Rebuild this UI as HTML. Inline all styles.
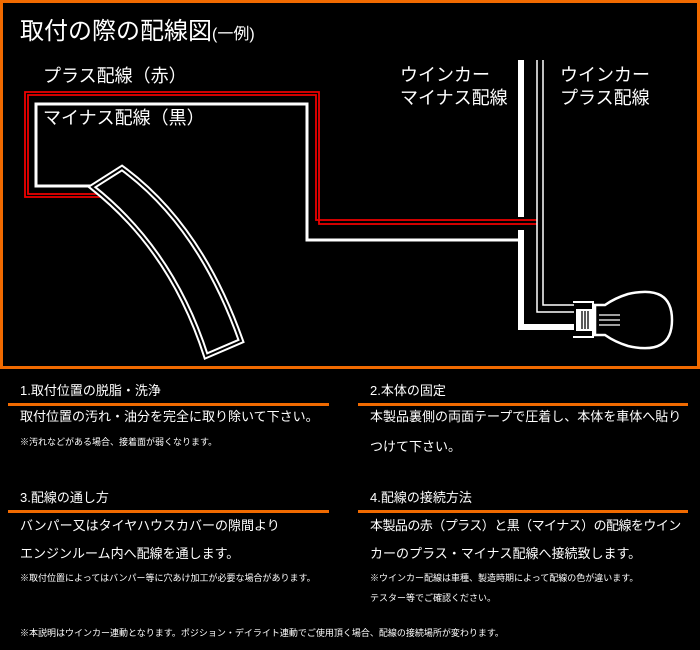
<!DOCTYPE html>
<html><head><meta charset="utf-8"><style>
body{margin:0;background:#000;width:700px;height:650px;overflow:hidden;font-family:"Liberation Sans","Noto Sans CJK JP",sans-serif;color:#fff;position:relative}
.t{position:absolute;white-space:nowrap;line-height:1}
.h{font-size:13px}
.b{font-size:13px}
.n{font-size:9px}
.ln{position:absolute;height:3px;background:#f06a00}
</style></head><body>
<svg width="700" height="370" style="position:absolute;left:0;top:0">
<rect x="1.5" y="1.5" width="697" height="366" fill="#000" stroke="#f06a00" stroke-width="3"/>
<g fill="none" stroke="#e00" stroke-width="1.8">
<polyline points="101,197 25,197 25,92 319,92 319,224 537,224"/>
<polyline points="101,194 28,194 28,95 316,95 316,220 537,220"/>
</g>
<polyline points="95,186 36,186 36,104 307,104 307,240 520,240" fill="none" stroke="#fff" stroke-width="3"/>
<path d="M92,187 L122,168 Q200,225 241,341 L206,356 Q172,250 92,187 Z" stroke="#fff" stroke-width="6" fill="#000"/>
<path d="M92,187 L122,168 Q200,225 241,341 L206,356 Q172,250 92,187 Z" stroke="#000" stroke-width="2" fill="none"/>
<rect x="518" y="60" width="6" height="157" fill="#fff"/>
<polyline points="521,230 521,327 574,327" fill="none" stroke="#fff" stroke-width="6"/>
<polyline points="537,60 537,312 574,312" fill="none" stroke="#fff" stroke-width="1.5"/>
<polyline points="543,60 543,305 574,305" fill="none" stroke="#fff" stroke-width="1.5"/>
<path d="M573,302 L593,302 L593,337 L573,337" fill="none" stroke="#fff" stroke-width="2"/>
<rect x="576" y="309" width="16" height="22" fill="#fff"/>
<g stroke="#000" stroke-width="1.3"><line x1="582" y1="311" x2="582" y2="329"/><line x1="585" y1="311" x2="585" y2="329"/><line x1="588" y1="311" x2="588" y2="329"/></g>
<path d="M595,305 L605,305 Q615,298 628,294 Q672,284 672,320 Q672,356 628,346 Q615,342 605,335 L595,335 Z" fill="#000" stroke="#fff" stroke-width="2.5"/>
<g stroke="#fff" stroke-width="1.3"><line x1="599" y1="315" x2="620" y2="315"/><line x1="599" y1="320" x2="620" y2="320"/><line x1="599" y1="325" x2="620" y2="325"/></g>
</svg>
<div class="t" style="left:20px;top:20px;font-size:24px">取付の際の配線図<span style="font-size:16px">(一例)</span></div>
<div class="t" style="left:43px;top:67px;font-size:18px">プラス配線（赤）</div>
<div class="t" style="left:43px;top:109px;font-size:18px">マイナス配線（黒）</div>
<div class="t" style="left:400px;top:64px;font-size:18px;line-height:23px">ウインカー<br>マイナス配線</div>
<div class="t" style="left:560px;top:64px;font-size:18px;line-height:23px">ウインカー<br>プラス配線</div>

<div class="t h" style="left:20px;top:384px">1.取付位置の脱脂・洗浄</div>
<div class="ln" style="left:8px;top:403px;width:321px"></div>
<div class="t b" style="left:20px;top:410px">取付位置の汚れ・油分を完全に取り除いて下さい。</div>
<div class="t n" style="left:20px;top:438px">※汚れなどがある場合、接着面が弱くなります。</div>

<div class="t h" style="left:370px;top:384px">2.本体の固定</div>
<div class="ln" style="left:358px;top:403px;width:330px"></div>
<div class="t b" style="left:370px;top:410px">本製品裏側の両面テープで圧着し、本体を車体へ貼り</div>
<div class="t b" style="left:370px;top:440px">つけて下さい。</div>

<div class="t h" style="left:20px;top:491px">3.配線の通し方</div>
<div class="ln" style="left:8px;top:510px;width:321px"></div>
<div class="t b" style="left:20px;top:519px">バンパー又はタイヤハウスカバーの隙間より</div>
<div class="t b" style="left:20px;top:547px">エンジンルーム内へ配線を通します。</div>
<div class="t n" style="left:20px;top:574px">※取付位置によってはバンパー等に穴あけ加工が必要な場合があります。</div>

<div class="t h" style="left:370px;top:491px">4.配線の接続方法</div>
<div class="ln" style="left:358px;top:510px;width:330px"></div>
<div class="t b" style="left:370px;top:519px;letter-spacing:-0.55px">本製品の赤（プラス）と黒（マイナス）の配線をウイン</div>
<div class="t b" style="left:370px;top:547px">カーのプラス・マイナス配線へ接続致します。</div>
<div class="t n" style="left:370px;top:574px">※ウインカー配線は車種、製造時期によって配線の色が違います。</div>
<div class="t n" style="left:370px;top:594px">テスター等でご確認ください。</div>

<div class="t n" style="left:20px;top:629px">※本説明はウインカー連動となります。ポジション・デイライト連動でご使用頂く場合、配線の接続場所が変わります。</div>
</body></html>
